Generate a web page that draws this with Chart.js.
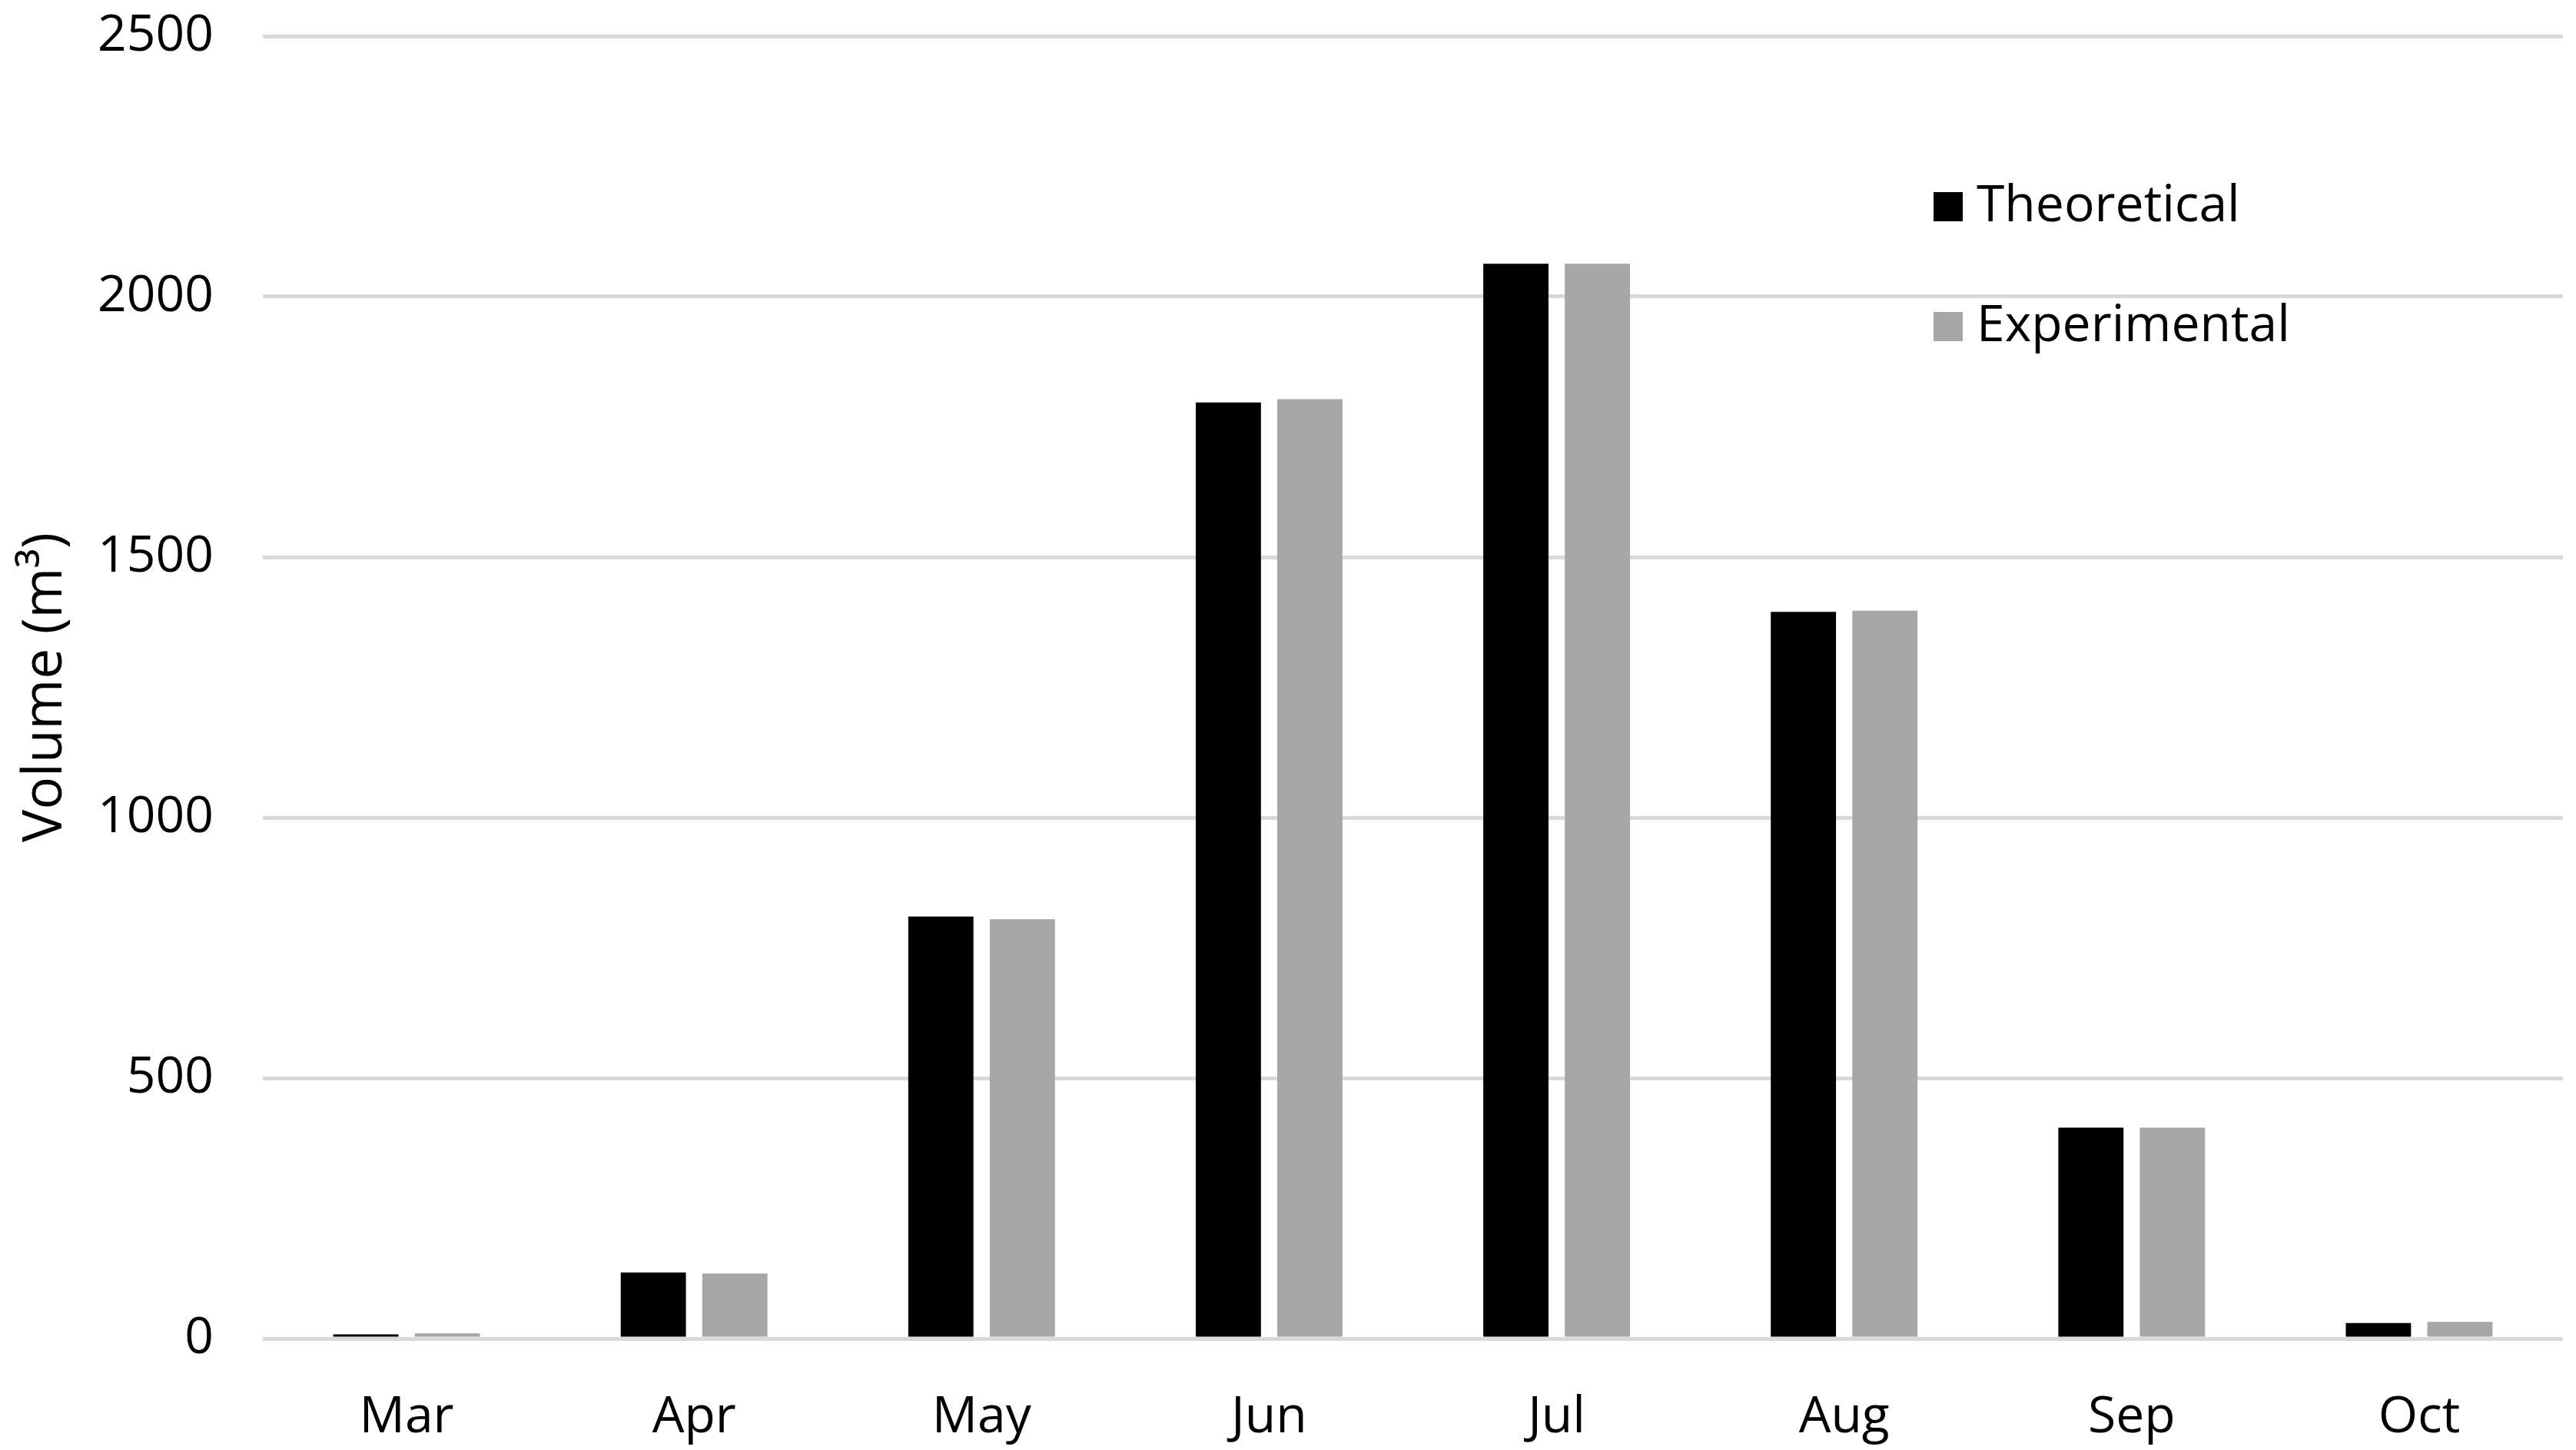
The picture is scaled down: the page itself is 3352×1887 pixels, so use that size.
<!DOCTYPE html>
<html>
<head>
<meta charset="utf-8">
<script src="https://cdn.jsdelivr.net/npm/chart.js@4/dist/chart.umd.min.js"></script>
<style>
  html, body { margin: 0; padding: 0; background: #ffffff; }
  #wrap { width: 3352px; height: 1887px; position: relative; }
</style>
</head>
<body>
<div id="wrap"><canvas id="grafico"></canvas></div>
<script>
// Dados
const meses = ["Mar", "Apr", "May", "Jun", "Jul", "Aug", "Sep", "Oct"];
const teorico = [8, 127, 810, 1797, 2063, 1395, 405, 30];
const experimental = [10, 125, 805, 1803, 2063, 1397, 405, 32];
const ticksY = [0, 500, 1000, 1500, 2000, 2500];

const fonte = "'Open Sans', 'Noto Sans', sans-serif";

// Legenda desenhada dentro da área do gráfico, em coluna
const legendaPlugin = {
    id: 'legendaColuna',
    afterDraw(chart) {
        const ctx = chart.ctx;
        const area = chart.chartArea;
        const x = area.right - 819, y0 = area.top + 222, passo = 156, lado = 38;
        ctx.save();
        ctx.font = "66px " + fonte;
        ctx.textBaseline = 'middle';
        ctx.textAlign = 'left';
        chart.data.datasets.forEach(function (ds, i) {
            const y = y0 + i * passo;
            ctx.fillStyle = ds.backgroundColor;
            ctx.fillRect(x, y - lado / 2, lado, lado);
            ctx.fillStyle = '#000000';
            ctx.fillText(ds.label, x + 56, y);
        });
        ctx.restore();
    }
};

const ctx = document.getElementById('grafico').getContext('2d');
new Chart(ctx, {
    type: 'bar',
    data: {
        labels: meses,
        datasets: [
            { label: 'Theoretical', data: teorico, backgroundColor: '#000000' },
            { label: 'Experimental', data: experimental, backgroundColor: '#a6a6a6' }
        ]
    },
    options: {
        responsive: true,
        maintainAspectRatio: false,
        animation: false,
        categoryPercentage: 0.567,
        barPercentage: 0.8,
        layout: { padding: { top: 0, right: 17, bottom: 0, left: 0 } },
        plugins: {
            legend: { display: false },
            tooltip: { enabled: false }
        },
        scales: {
            x: {
                afterFit(axis) {
                    axis.height = 145;
                },
                grid: { display: false },
                border: { display: false },
                ticks: { color: '#000000', font: { family: fonte, size: 66 }, padding: 56 }
            },
            y: {
                min: 0,
                max: 2500,
                afterBuildTicks(axis) { axis.ticks = ticksY.map(v => ({ value: v })); },
                afterFit(axis) {
                    axis.width = 342;
                    axis.paddingTop = 47;
                    axis.paddingBottom = 0;
                },
                grid: { color: '#d9d9d9', lineWidth: 5, drawTicks: false },
                border: { display: false },
                ticks: {
                    color: '#000000',
                    font: { family: fonte, size: 66 },
                    padding: 64,
                    callback: v => String(v)
                },
                title: {
                    display: true,
                    text: 'Volume (m³)',
                    color: '#000000',
                    font: { family: fonte, size: 71 },
                    padding: { top: 17, bottom: 0 }
                }
            }
        }
    },
    plugins: [legendaPlugin]
});
</script>
</body>
</html>
